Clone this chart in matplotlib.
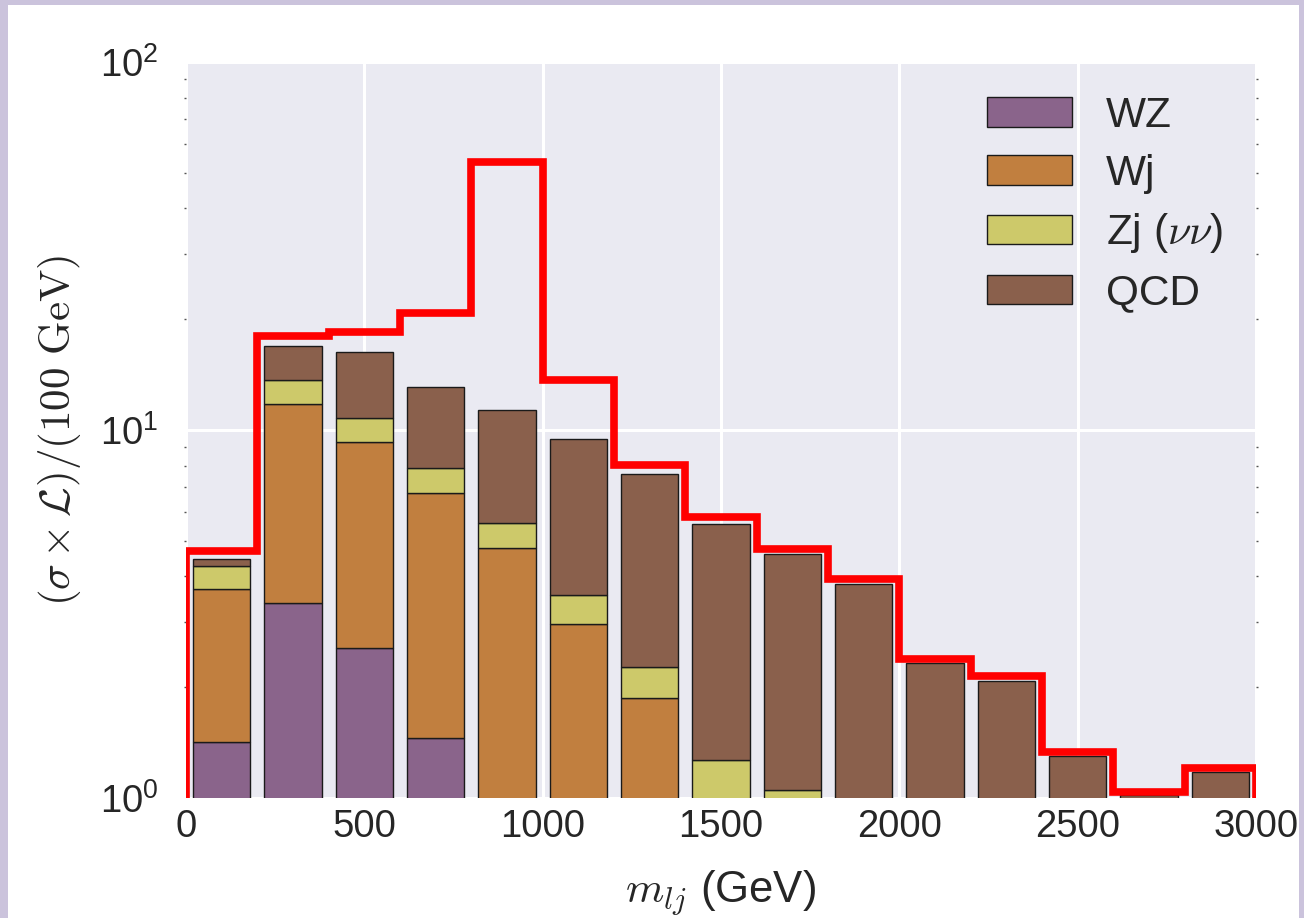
import matplotlib
matplotlib.use("Agg")
import matplotlib.pyplot as plt
import numpy as np
import seaborn as sns
from matplotlib.patches import Rectangle

# bins of 200 GeV from 0 to 3000
edges = np.arange(0, 3001, 200)
wz = [1.42, 3.39, 2.56, 1.46, 0.45, 0.30, 0.20, 0.15, 0.10, 0.05, 0.04, 0.03, 0.02, 0.02, 0.01]
wj = [2.28, 8.41, 6.71, 5.28, 4.33, 2.67, 1.67, 0.65, 0.45, 0.30, 0.20, 0.15, 0.10, 0.08, 0.05]
zj = [0.57, 1.90, 1.53, 1.14, 0.81, 0.59, 0.40, 0.47, 0.50, 0.40, 0.30, 0.25, 0.20, 0.15, 0.10]
qcd = [0.19, 3.20, 5.50, 5.22, 5.71, 5.89, 5.32, 4.28, 3.55, 3.07, 1.79, 1.65, 0.98, 0.77, 1.02]
total = [4.68, 18.0, 18.5, 20.8, 53.4, 13.65, 8.04, 5.81, 4.76, 3.94, 2.39, 2.14, 1.33, 1.04, 1.21]

labels = ["WZ", "Wj", r"Zj ($\nu\nu$)", "QCD"]
colors = ["#8a648b", "#c17f3f", "#cdc96a", "#8a604c"]

sns.set_style("darkgrid")
plt.rcParams["font.family"] = ["Liberation Sans", "DejaVu Sans"]
plt.rcParams["mathtext.fontset"] = "custom"
plt.rcParams["mathtext.rm"] = "Liberation Sans"
plt.rcParams["mathtext.it"] = "Liberation Sans:italic"
plt.rcParams["mathtext.bf"] = "Liberation Sans:bold"

fig = plt.figure(figsize=(13.04, 9.18), dpi=100)
fig.patch.set_facecolor("#cbc3dc")
fig.add_artist(Rectangle((8 / 1304, 0), 1291 / 1304, 913 / 918,
                         transform=fig.transFigure, facecolor="white",
                         edgecolor="none", zorder=-5))
ax = fig.add_axes([186 / 1304, 1 - 798 / 918, 1070 / 1304, 736 / 918])

centers = edges[:-1] + 100
bottom = np.zeros(len(centers))
for vals, lab, col in zip([wz, wj, zj, qcd], labels, colors):
    vals = np.array(vals)
    ax.bar(centers, vals, width=160, bottom=bottom, color=col,
           edgecolor="#1a1a1a", linewidth=1.0, label=lab, zorder=2)
    bottom = bottom + vals

ax.stairs(total, edges, baseline=0.5, color="red", linewidth=5.5, zorder=3)

ax.set_yscale("log")
ax.set_xlim(0, 3000)
ax.set_ylim(1, 100)
ax.set_xticks([0, 500, 1000, 1500, 2000, 2500, 3000])
ax.grid(True, which="major", color="white", linewidth=2.2)
ax.grid(False, which="minor")
ax.tick_params(which="major", labelsize=27.5, length=0, labelcolor="#262626")
ax.tick_params(axis="x", which="major", pad=8)
ax.tick_params(axis="y", which="major", pad=20)
ax.tick_params(which="minor", length=1.5, width=1, color="#555555",
               left=True, right=True)
for s in ax.spines.values():
    s.set_visible(False)

ax.set_xlabel(r"$m_{lj}$ (GeV)", fontsize=31.5, color="#262626",
              math_fontfamily="cm")
ax.xaxis.set_label_coords(0.5, (798 - 893) / 736)
ax.xaxis.label.set_va("center")
ax.set_ylabel(r"$(\sigma \times \mathcal{L})/(100\ \mathrm{GeV})$", fontsize=31,
              color="#262626", math_fontfamily="cm")
ax.yaxis.set_label_coords((83 - 186) / 1070, 0.5)

leg = ax.legend(loc="upper right", fontsize=30.5, frameon=False,
                labelspacing=0.42, borderaxespad=0.4)
for t in leg.get_texts():
    t.set_math_fontfamily("cm")
    t.set_color("#262626")

fig.savefig("out.png", dpi=100, facecolor=fig.get_facecolor())
